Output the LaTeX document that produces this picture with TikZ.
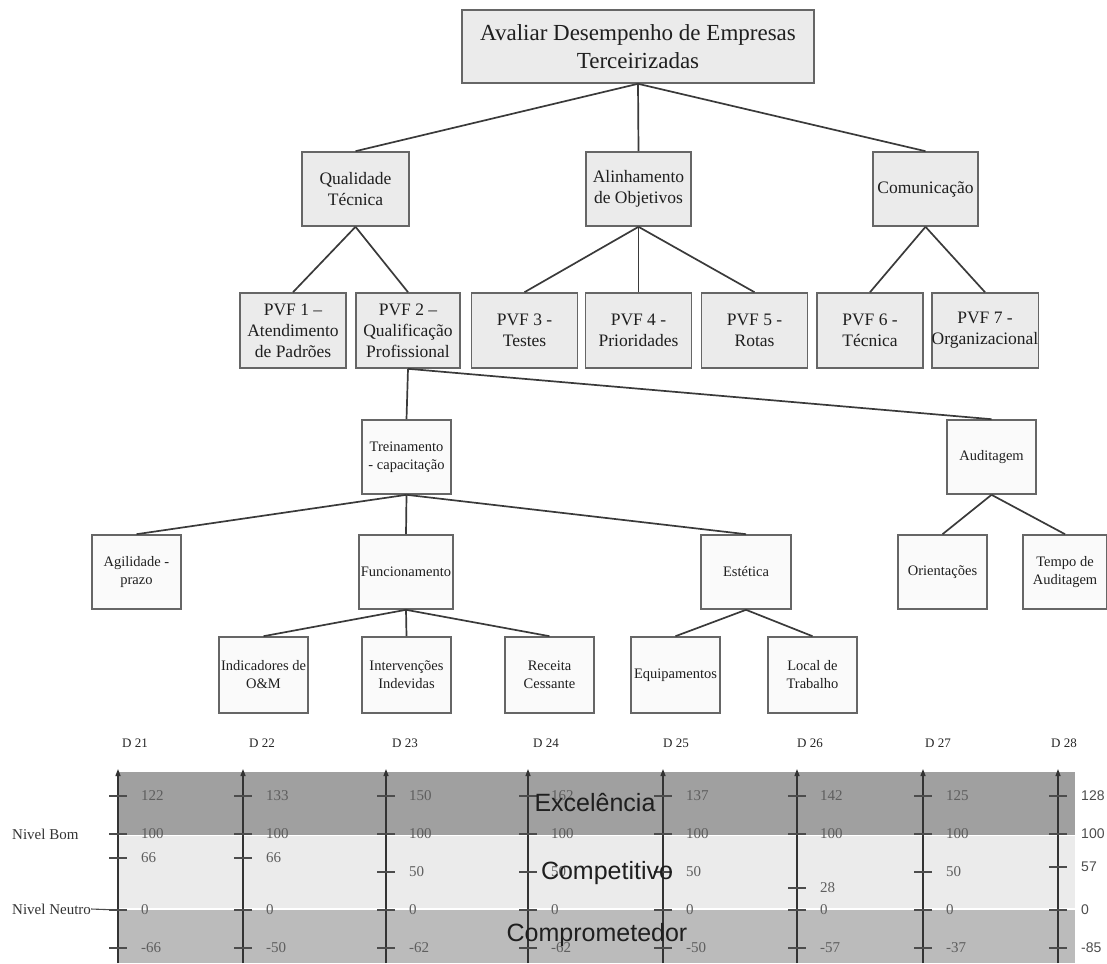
\documentclass[tikz,border=0pt]{standalone}
\usepackage{fontspec}
\setmainfont{Liberation Serif}
\setsansfont{Liberation Sans}
\usetikzlibrary{arrows.meta}
\definecolor{boxline}{HTML}{666666}
\definecolor{boxgray}{HTML}{EBEBEB}
\definecolor{boxwhite}{HTML}{FAFAFA}
\definecolor{edgegray}{HTML}{3A3A3A}
\definecolor{bandhi}{HTML}{A0A0A0}
\definecolor{bandmid}{HTML}{EBEBEB}
\definecolor{bandlo}{HTML}{BBBBBB}
\definecolor{valgray}{HTML}{5E5E5E}
\tikzset{
box/.style={draw=boxline,line width=1.6pt,inner sep=0pt,align=center,text=black!88},
hibox/.style={box,fill=boxgray,minimum width=106pt,minimum height=75pt,font=\fontsize{17.5}{21}\selectfont},
lobox/.style={box,fill=boxwhite,minimum width=89pt,minimum height=74pt,font=\fontsize{14.5}{18}\selectfont},
edge/.style={draw=edgegray,line width=1.7pt},
axisline/.style={draw=black!80,line width=1.3pt,-{Triangle[length=7pt,width=5pt]}},
tickline/.style={draw=black!70,line width=1.1pt},
dlab/.style={font=\fontsize{13}{15}\selectfont,text=black!85},
serval/.style={anchor=west,inner sep=0pt,font=\fontsize{15}{17}\selectfont,text=valgray},
sansval/.style={anchor=west,inner sep=0pt,font=\sffamily\fontsize{14}{16}\selectfont,text=black!70},
nivel/.style={anchor=west,inner sep=0pt,font=\fontsize{15}{17}\selectfont,text=black!80},
bandtxt/.style={inner sep=0pt,font=\sffamily\fontsize{25}{28}\selectfont,text=black!88}
}

\begin{document}
\begin{tikzpicture}[x=1pt,y=-1pt]
\useasboundingbox (0,0) rectangle (1107,963);
% arvore de valores
\node[hibox,minimum width=352pt,minimum height=73pt,font=\fontsize{23}{28}\selectfont] (goal) at (638,46.5) {Avaliar Desempenho de Empresas\\Terceirizadas};
\node[hibox,minimum width=107pt,minimum height=74pt] (qual) at (355.5,189) {Qualidade\\Técnica};
\node[hibox,minimum width=105pt,minimum height=74pt] (alin) at (638.5,189) {Alinhamento\\de Objetivos};
\node[hibox,minimum width=105pt,minimum height=74pt] (comu) at (925.5,189) {Comunicação};
\node[hibox] (pvf1) at (293,330.5) {PVF 1 –\\Atendimento\\de Padrões};
\node[hibox,minimum width=104pt] (pvf2) at (408,330.5) {PVF 2 –\\Qualificação\\Profissional};
\node[hibox] (pvf3) at (524.5,330.5) {PVF 3 -\\Testes};
\node[hibox] (pvf4) at (638.5,330.5) {PVF 4 -\\Prioridades};
\node[hibox] (pvf5) at (754.5,330.5) {PVF 5 -\\Rotas};
\node[hibox] (pvf6) at (870,330.5) {PVF 6 -\\Técnica};
\node[hibox] (pvf7) at (985,330.5) {PVF 7 -\\Organizacional};
\node[lobox] (trei) at (406.5,457) {Treinamento\\- capacitação};
\node[lobox] (audi) at (991.5,457) {Auditagem};
\node[lobox] (agil) at (136.5,572) {Agilidade -\\prazo};
\node[lobox,minimum width=94pt] (func) at (406,572) {Funcionamento};
\node[lobox,minimum width=90pt] (este) at (746,572) {Estética};
\node[lobox] (orie) at (942.5,572) {Orientações};
\node[lobox,minimum width=84pt] (tempo) at (1065,572) {Tempo de\\Auditagem};
\node[lobox,minimum height=76pt] (indi) at (263.5,675) {Indicadores de\\O\&M};
\node[lobox,minimum height=76pt] (inte) at (406.5,675) {Intervenções\\Indevidas};
\node[lobox,minimum height=76pt] (rece) at (549.5,675) {Receita\\Cessante};
\node[lobox,minimum height=76pt] (equi) at (675.5,675) {Equipamentos};
\node[lobox,minimum height=76pt] (loca) at (812.5,675) {Local de\\Trabalho};
\foreach \c in {qual,alin,comu} \draw[edge] (goal.south) -- (\c.north);
\foreach \c in {pvf1,pvf2} \draw[edge] (qual.south) -- (\c.north);
\foreach \c in {pvf3,pvf4,pvf5} \draw[edge] (alin.south) -- (\c.north);
\foreach \c in {pvf6,pvf7} \draw[edge] (comu.south) -- (\c.north);
\foreach \c in {trei,audi} \draw[edge] (pvf2.south) -- (\c.north);
\foreach \c in {agil,func,este} \draw[edge] (trei.south) -- (\c.north);
\foreach \c in {indi,inte,rece} \draw[edge] (func.south) -- (\c.north);
\foreach \c in {equi,loca} \draw[edge] (este.south) -- (\c.north);
\foreach \c in {orie,tempo} \draw[edge] (audi.south) -- (\c.north);
% escalas
\fill[bandhi] (118,772) rectangle (1075,835);
\fill[bandmid] (118,835) rectangle (1075,909);
\fill[bandlo] (118,909) rectangle (1075,963);
\draw[white,line width=0.8pt] (118,835) -- (1075,835);
\draw[white,line width=2pt] (118,909) -- (1075,909);
\foreach \ax/\dx/\dn/\vt/\vm/\ym/\vn/\vs in {118/135/21/122/66/858/-66/serval,243/262/22/133/66/858/-50/serval,386/405/23/150/50/872/-62/serval,528/546/24/162/50/872/-62/serval,663/676/25/137/50/872/-50/serval,797/810/26/142/28/888/-57/serval,923/938/27/125/50/872/-37/serval,1058/1064/28/128/57/867/-85/sansval}{
  \node[dlab] (d\dn) at (\dx,743) {D \dn};
  \coordinate (a\dn) at (\ax,963);
  \coordinate (b\dn) at (\ax,769);
  \draw[axisline] (a\dn) -- (b\dn);
  \foreach \ty/\tv in {796/\vt,834/100,\ym/\vm,910/0,948/\vn}{
    \draw[tickline] (\ax-9,\ty) -- (\ax+9,\ty);
    \node[\vs] (v\dn-\ty) at (\ax+23,\ty) {\tv};
  }
}
\node[nivel] (nbom) at (12,834) {Nivel Bom};
\node[nivel] (nneu) at (12,909) {Nivel Neutro};
\coordinate (n0) at (118,910);
\draw[tickline] (nneu.east) -- (n0);
\node[bandtxt] (exc) at (595,803) {Excelência};
\node[bandtxt] (comp) at (607,873) {Competitivo};
\node[bandtxt] (compr) at (597,935) {Comprometedor};
\end{tikzpicture}
\end{document}
